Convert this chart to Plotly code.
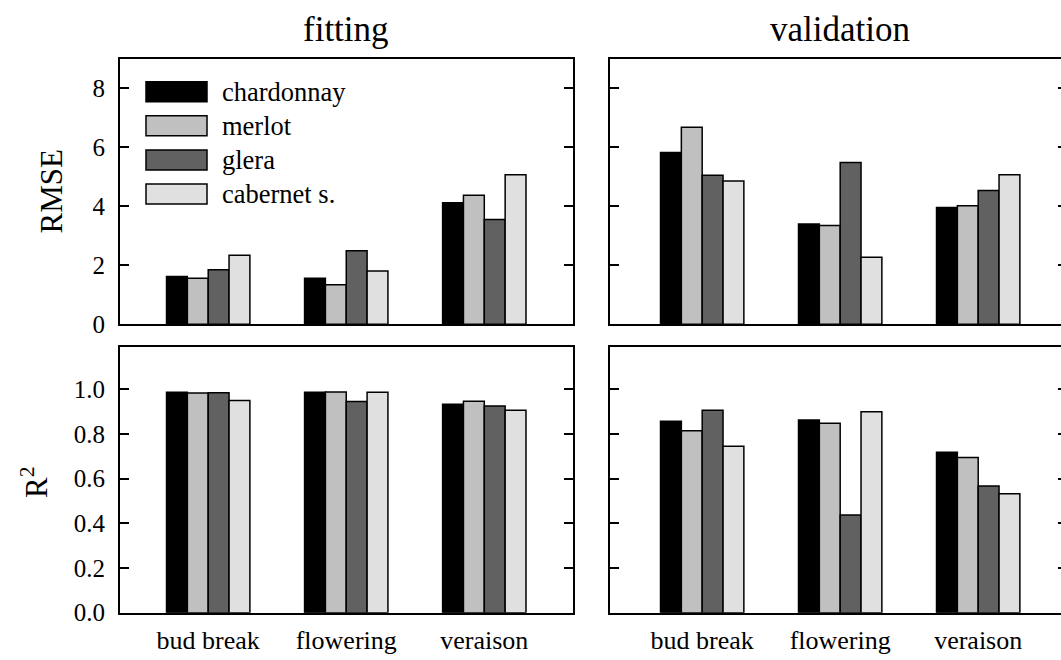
import plotly.graph_objects as go

# ---------------- data ----------------
categories = ["bud break", "flowering", "veraison"]
varieties = ["chardonnay", "merlot", "glera", "cabernet s."]
colors = ["#000000", "#c0c0c0", "#616161", "#e0e0e0"]

# rows: chardonnay, merlot, glera, cabernet s.; columns: bud break, flowering, veraison
rmse_fitting = [
    [1.62, 1.56, 4.12],
    [1.56, 1.34, 4.37],
    [1.85, 2.49, 3.55],
    [2.34, 1.81, 5.07],
]
rmse_validation = [
    [5.82, 3.40, 3.96],
    [6.68, 3.35, 4.02],
    [5.05, 5.48, 4.53],
    [4.86, 2.27, 5.07],
]
r2_fitting = [
    [0.987, 0.987, 0.934],
    [0.984, 0.989, 0.947],
    [0.985, 0.946, 0.926],
    [0.950, 0.987, 0.907],
]
r2_validation = [
    [0.857, 0.863, 0.719],
    [0.815, 0.848, 0.695],
    [0.907, 0.438, 0.567],
    [0.746, 0.900, 0.533],
]

rmse_ticks = [0, 2, 4, 6, 8]
r2_ticks = [0.0, 0.2, 0.4, 0.6, 0.8, 1.0]
r2_ticklabels = ["0.0", "0.2", "0.4", "0.6", "0.8", "1.0"]

panel_titles = ["fitting", "validation"]
row_titles = ["RMSE", "R<sup>2</sup>"]

# ---------------- style / layout ----------------
FONT = "Liberation Serif, Times New Roman, serif"
W, H = 1061, 660

def px_x(p):
    return p / W

def px_y(p):
    return 1 - p / H

left_dom = [px_x(120), px_x(572.5)]
right_dom = [px_x(610), 1.0]
top_dom = [px_y(324.3), px_y(59)]
bot_dom = [px_y(612.7), px_y(347)]

left_range = [-0.639, 2.639]
right_range = [-0.668, 2.600]
rmse_range = [0, 8.99]
r2_range = [0, 1.19]

fig = go.Figure()

panels = [
    (rmse_fitting, "x", "y"),
    (rmse_validation, "x2", "y2"),
    (r2_fitting, "x3", "y3"),
    (r2_validation, "x4", "y4"),
]
for data, xa, ya in panels:
    for name, col, vals in zip(varieties, colors, data):
        fig.add_trace(go.Bar(
            x=categories, y=vals, name=name, xaxis=xa, yaxis=ya,
            marker=dict(color=col, line=dict(color="#000000", width=1.5)),
            showlegend=False, offsetgroup=name,
        ))

# invisible helper traces so the right-side tick overlays are drawn
for data, xa, ya in [(rmse_validation, "x2", "y5"), (r2_validation, "x4", "y6")]:
    fig.add_trace(go.Scatter(x=categories, y=data[0], xaxis=xa, yaxis=ya,
                             mode="lines", line=dict(width=0, color="rgba(0,0,0,0)"),
                             hoverinfo="skip", showlegend=False))

tickfont = dict(family=FONT, size=25, color="#000000")
axline = dict(showline=True, linecolor="#000000", linewidth=2, showgrid=False,
              zeroline=False, automargin=False, fixedrange=True)

def xax(dom, rng, anchor, labels):
    d = dict(domain=dom, range=rng, anchor=anchor, mirror=True, ticks="",
             showticklabels=labels, tickfont=dict(family=FONT, size=26, color="#000000"),
             ticklabelstandoff=3, type="category")
    d.update(axline)
    return d

def yax(dom, rng, anchor, ticks, ticktext, labels, mirror):
    d = dict(domain=dom, range=rng, anchor=anchor, mirror=mirror, ticks="inside",
             ticklen=9, tickwidth=2, tickcolor="#000000",
             tickvals=ticks, ticktext=ticktext, showticklabels=labels,
             tickfont=tickfont, ticklabelstandoff=8)
    d.update(axline)
    return d

def yright(overlay, anchor, rng, ticks):
    return dict(overlaying=overlay, anchor=anchor, side="right", range=rng,
                tickvals=ticks, ticks="inside", ticklen=3, tickwidth=2,
                tickcolor="#000000", showticklabels=False, showline=False,
                showgrid=False, zeroline=False, fixedrange=True, automargin=False)

fig.update_layout(
    width=W, height=H, autosize=False,
    margin=dict(l=0, r=0, t=0, b=0, pad=0),
    paper_bgcolor="#ffffff", plot_bgcolor="#ffffff",
    barmode="group", bargap=0.396, bargroupgap=0,
    font=dict(family=FONT, color="#000000"),
    xaxis=xax(left_dom, left_range, "y", False),
    xaxis2=xax(right_dom, right_range, "y2", False),
    xaxis3=xax(left_dom, left_range, "y3", True),
    xaxis4=xax(right_dom, right_range, "y4", True),
    yaxis=yax(top_dom, rmse_range, "x", rmse_ticks, [str(t) for t in rmse_ticks], True, "ticks"),
    yaxis2=yax(top_dom, rmse_range, "x2", rmse_ticks, [str(t) for t in rmse_ticks], False, False),
    yaxis3=yax(bot_dom, r2_range, "x3", r2_ticks, r2_ticklabels, True, "ticks"),
    yaxis4=yax(bot_dom, r2_range, "x4", r2_ticks, r2_ticklabels, False, False),
    yaxis5=yright("y2", "x2", rmse_range, rmse_ticks),
    yaxis6=yright("y4", "x4", r2_range, r2_ticks),
)

annotations = []
# panel titles
for title, xc in zip(panel_titles, [346, 840]):
    annotations.append(dict(text=title, x=px_x(xc), y=px_y(29), xref="paper", yref="paper",
                            xanchor="center", yanchor="middle", showarrow=False,
                            font=dict(family=FONT, size=35, color="#000000")))
# row titles
for title, xc, yc in zip(row_titles, [51, 34], [191.5, 482]):
    annotations.append(dict(text=title, x=px_x(xc), y=px_y(yc), xref="paper", yref="paper",
                            xanchor="center", yanchor="middle", showarrow=False, textangle=-90,
                            font=dict(family=FONT, size=31, color="#000000")))

# legend (inside the top-left panel)
shapes = []
leg_x0, leg_x1 = 146, 207
leg_y0, leg_dy, leg_h = 91.7, 34.1, 20
for i, (name, col) in enumerate(zip(varieties, colors)):
    yc = leg_y0 + i * leg_dy
    shapes.append(dict(type="rect", xref="paper", yref="paper",
                       x0=px_x(leg_x0), x1=px_x(leg_x1),
                       y0=px_y(yc + leg_h / 2), y1=px_y(yc - leg_h / 2),
                       fillcolor=col, line=dict(color="#000000", width=1.5)))
    annotations.append(dict(text=name, x=px_x(220), y=px_y(yc), xref="paper", yref="paper",
                            xanchor="left", yanchor="middle", showarrow=False,
                            font=dict(family=FONT, size=26.5, color="#000000")))

fig.update_layout(annotations=annotations, shapes=shapes)

fig.write_html(
    "out.html",
    config={"displayModeBar": False, "responsive": False},
    post_script="document.body.style.margin='0';document.body.style.overflow='hidden';",
)
